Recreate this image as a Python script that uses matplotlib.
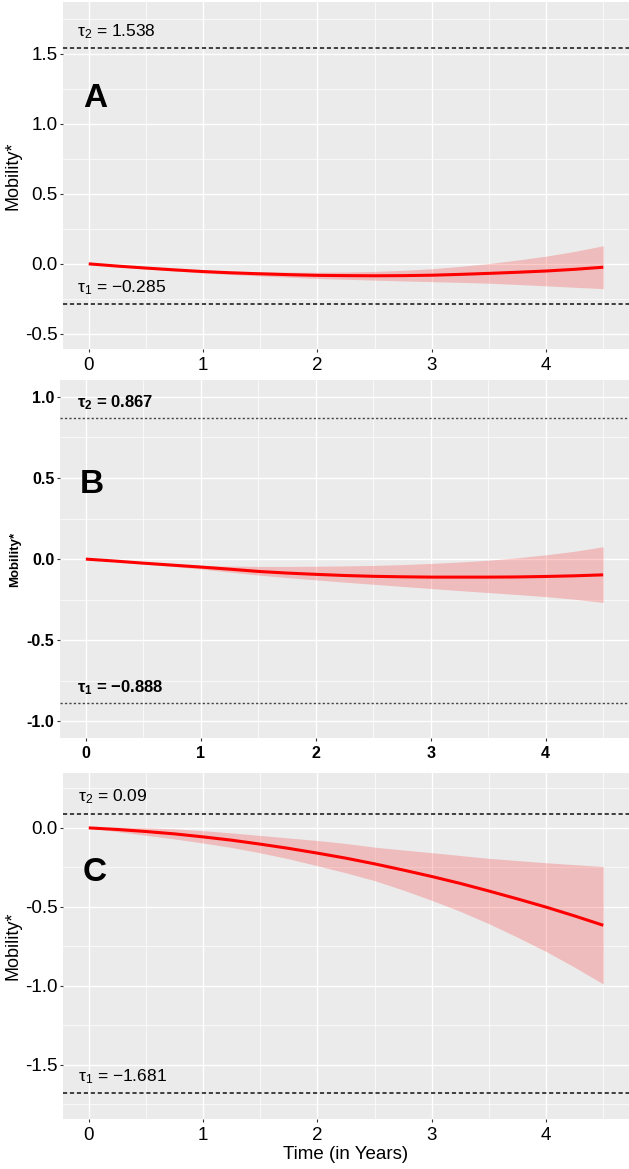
#!/usr/bin/env python3

import matplotlib
matplotlib.use("Agg")
import matplotlib.pyplot as plt
from matplotlib.ticker import MultipleLocator

plt.rcParams["font.family"] = ["Liberation Sans", "DejaVu Sans"]
plt.rcParams["mathtext.fontset"] = "custom"
plt.rcParams["mathtext.rm"] = "Liberation Sans"
plt.rcParams["mathtext.it"] = "Liberation Sans:italic"
plt.rcParams["mathtext.bf"] = "Liberation Sans:bold"
plt.rcParams["lines.scale_dashes"] = False

# time in years
time = [0, 0.25, 0.5, 0.75, 1, 1.25, 1.5, 1.75, 2, 2.25,
        2.5, 2.75, 3, 3.25, 3.5, 3.75, 4, 4.25, 4.5]

# panel A
a_fit = [0, -0.016, -0.030, -0.043, -0.055, -0.064, -0.071, -0.077, -0.082, -0.084,
         -0.085, -0.084, -0.081, -0.075, -0.068, -0.060, -0.051, -0.039, -0.024]
a_upper = [0, -0.012, -0.024, -0.035, -0.045, -0.052, -0.056, -0.059, -0.060, -0.058,
           -0.054, -0.046, -0.035, -0.018, 0.002, 0.027, 0.055, 0.089, 0.129]
a_lower = [0, -0.020, -0.036, -0.051, -0.065, -0.076, -0.086, -0.095, -0.104, -0.110,
           -0.116, -0.122, -0.127, -0.132, -0.138, -0.147, -0.157, -0.167, -0.177]
a_tau = [-0.285, 1.538]

# panel B
b_fit = [0, -0.012, -0.025, -0.037, -0.049, -0.062, -0.076, -0.086, -0.094, -0.101,
         -0.106, -0.109, -0.111, -0.111, -0.111, -0.110, -0.107, -0.103, -0.097]
b_upper = [0, -0.010, -0.019, -0.031, -0.039, -0.043, -0.045, -0.045, -0.044, -0.042,
           -0.039, -0.034, -0.027, -0.018, -0.007, 0.008, 0.026, 0.048, 0.076]
b_lower = [0, -0.014, -0.030, -0.045, -0.061, -0.080, -0.098, -0.114, -0.128, -0.142,
           -0.155, -0.168, -0.181, -0.194, -0.206, -0.218, -0.231, -0.247, -0.267]
b_tau = [-0.888, 0.867]

# panel C
c_fit = [0, -0.010, -0.023, -0.038, -0.057, -0.078, -0.103, -0.130, -0.160, -0.192,
         -0.228, -0.267, -0.308, -0.352, -0.400, -0.450, -0.502, -0.558, -0.617]
c_upper = [0, 0.004, 0.001, -0.006, -0.018, -0.032, -0.048, -0.064, -0.080, -0.099,
           -0.122, -0.140, -0.157, -0.175, -0.193, -0.207, -0.221, -0.233, -0.245]
c_lower = [0, -0.024, -0.047, -0.070, -0.096, -0.124, -0.158, -0.196, -0.240, -0.285,
           -0.334, -0.394, -0.459, -0.529, -0.607, -0.693, -0.783, -0.883, -0.989]
c_tau = [-1.681, 0.09]

x_ticks = [0, 1, 2, 3, 4]


def fmt_tau(v):
    s = "%g" % abs(v)
    return ("\u2212" + s) if v < 0 else s


def panel(ax, fit, lower, upper, tau, letter, ylim, yticks, letter_y,
          tau_dy, tau_x, bold=False, tick_fs=13.5, lab_fs=13):
    ax.set_facecolor("#EBEBEB")
    for s in ax.spines.values():
        s.set_visible(False)
    ax.set_xlim(-0.225, 4.725)
    ax.set_ylim(*ylim)
    ax.set_xticks(x_ticks)
    ax.set_yticks(yticks)
    ax.xaxis.set_minor_locator(MultipleLocator(0.5))
    ax.yaxis.set_minor_locator(MultipleLocator(0.25))
    ax.grid(which="major", color="white", lw=1.0)
    ax.grid(which="minor", color="white", lw=0.5)
    ax.set_axisbelow(True)
    weight = "bold" if bold else "normal"
    ax.tick_params(which="major", length=2.5, width=0.8, color="#333333",
                   labelsize=tick_fs, labelcolor="black")
    ax.tick_params(axis="x", pad=3)
    ax.tick_params(axis="y", pad=1.5)
    ax.tick_params(which="minor", length=0)
    ax.set_yticklabels(["%.1f" % v for v in yticks], fontweight=weight)
    ax.set_xticklabels([str(v) for v in x_ticks], fontweight=weight)

    ax.fill_between(time, lower, upper, color="red", alpha=0.2, lw=0)
    ax.plot(time, fit, color="#FF0000", lw=2.2, solid_capstyle="butt")

    if bold:
        ls = (0, (1.6, 1.6))
        lw = 1.0
        col = "#444444"
    else:
        ls = (0, (3.0, 2.0))
        lw = 1.1
        col = "#111111"
    sub = ["1", "2"]
    for i, t in enumerate(tau):
        ax.axhline(t, color=col, lw=lw, ls=ls)
        if bold:
            lab = "\u03c4$_\\mathbf{%s}$ = %s" % (sub[i], fmt_tau(t))
        else:
            lab = "\u03c4$_%s$ = %s" % (sub[i], fmt_tau(t))
        ax.text(tau_x, t + tau_dy, lab, ha="left", va="center",
                fontsize=12 if bold else 12.5, fontweight=weight)

    ax.text(-0.05, letter_y, letter, ha="left", va="center", fontsize=24,
            fontweight="bold")
    ax.set_ylabel("Mobility*", fontsize=lab_fs, fontweight=weight)


fig = plt.figure(figsize=(6.29, 11.69), dpi=100)
ax_a = fig.add_axes([0.1002, 0.7015, 0.8998, 0.2968])
ax_b = fig.add_axes([0.0954, 0.3687, 0.9046, 0.3062])
ax_c = fig.add_axes([0.1002, 0.0428, 0.8998, 0.2960])

panel(ax_a, a_fit, a_lower, a_upper, a_tau, "A", (-0.607, 1.868),
      [-0.5, 0.0, 0.5, 1.0, 1.5], 1.18, 0.115, -0.10)
panel(ax_b, b_fit, b_lower, b_upper, b_tau, "B", (-1.102, 1.103),
      [-1.0, -0.5, 0.0, 0.5, 1.0], 0.457, 0.097, -0.074,
      bold=True, tick_fs=11.5, lab_fs=9.5)
panel(ax_c, c_fit, c_lower, c_upper, c_tau, "C", (-1.844, 0.348),
      [-1.5, -1.0, -0.5, 0.0], -0.28, 0.107, -0.09)

ax_a.yaxis.set_label_coords(-0.074, 0.5)
ax_b.yaxis.set_label_coords(-0.068, 0.5)
ax_c.yaxis.set_label_coords(-0.074, 0.5)
ax_c.set_xlabel("Time (in Years)", fontsize=13.5, labelpad=2)

fig.savefig("out.png", dpi=100)
